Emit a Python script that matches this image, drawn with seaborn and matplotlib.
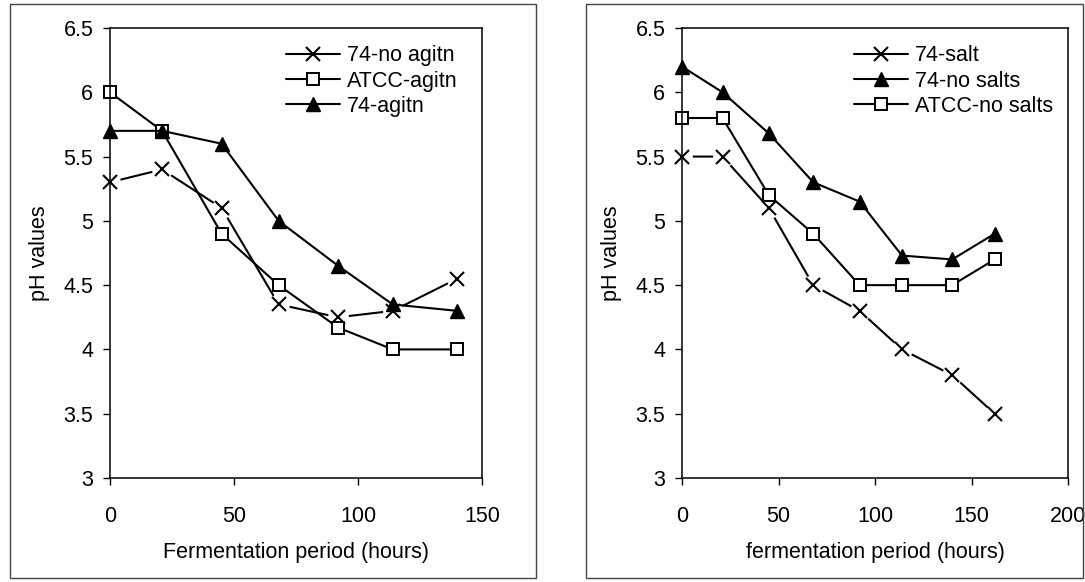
import matplotlib
matplotlib.use("Agg")
import matplotlib.pyplot as plt
from matplotlib.patches import Rectangle
from matplotlib.lines import Line2D
import seaborn as sns
import pandas as pd

# Sampling times (hours)
hours_agit = [0, 21, 45, 68, 92, 114, 140]
hours_salt = [0, 21, 45, 68, 92, 114, 140, 162]

# pH readings, agitation trial
ph_74_no_agitn = [5.3, 5.4, 5.1, 4.35, 4.25, 4.3, 4.55]
ph_atcc_agitn = [6.0, 5.7, 4.9, 4.5, 4.17, 4.0, 4.0]
ph_74_agitn = [5.7, 5.7, 5.6, 5.0, 4.65, 4.35, 4.3]

# pH readings, salts trial
ph_74_salt = [5.5, 5.5, 5.1, 4.5, 4.3, 4.0, 3.8, 3.5]
ph_74_no_salts = [6.2, 6.0, 5.68, 5.3, 5.15, 4.73, 4.7, 4.9]
ph_atcc_no_salts = [5.8, 5.8, 5.2, 4.9, 4.5, 4.5, 4.5, 4.7]

sns.set_theme(style="white")
plt.rcParams["font.family"] = ["Liberation Sans", "DejaVu Sans"]
FS = 15.5

fig = plt.figure(figsize=(10.85, 5.82), dpi=100)

# chart-area frames
fig.patches.append(Rectangle((10 / 1085, 4 / 582), 526 / 1085, 574 / 582,
                             transform=fig.transFigure, fill=False,
                             edgecolor="#444444", linewidth=1.0))
fig.patches.append(Rectangle((586 / 1085, 4 / 582), 497 / 1085, 574 / 582,
                             transform=fig.transFigure, fill=False,
                             edgecolor="#444444", linewidth=1.0))

ax1 = fig.add_axes([110 / 1085, 104 / 582, 372 / 1085, 450 / 582])
ax2 = fig.add_axes([682 / 1085, 104 / 582, 386 / 1085, 450 / 582])

marker_kw = {
    "x": dict(marker="x", markersize=10, markeredgewidth=1.5,
              markeredgecolor="black"),
    "s": dict(marker="s", markersize=9, markeredgewidth=1.4,
              markerfacecolor="white", markeredgecolor="black"),
    "^": dict(marker="^", markersize=10, markeredgewidth=1.0,
              markerfacecolor="black", markeredgecolor="black"),
}

def draw(ax, x, y, m):
    df = pd.DataFrame({"hours": x, "pH": y})
    sns.lineplot(data=df, x="hours", y="pH", ax=ax, color="black",
                 linewidth=1.5, clip_on=False)
    if m == "x":
        # white halo so the line stops short of each cross
        sns.lineplot(data=df, x="hours", y="pH", ax=ax, linestyle="",
                     marker="o", markersize=15, markerfacecolor="white",
                     markeredgewidth=0, clip_on=False)
    sns.lineplot(data=df, x="hours", y="pH", ax=ax, linestyle="",
                 color="black", clip_on=False, **marker_kw[m])

def handle(m):
    return Line2D([], [], color="black", linewidth=1.5, **marker_kw[m])

draw(ax1, hours_agit, ph_74_no_agitn, "x")
draw(ax1, hours_agit, ph_atcc_agitn, "s")
draw(ax1, hours_agit, ph_74_agitn, "^")

draw(ax2, hours_salt, ph_74_salt, "x")
draw(ax2, hours_salt, ph_74_no_salts, "^")
draw(ax2, hours_salt, ph_atcc_no_salts, "s")

legends = {
    ax1: ([handle("x"), handle("s"), handle("^")],
          ["74-no agitn", "ATCC-agitn", "74-agitn"], (0.98, 1.0)),
    ax2: ([handle("x"), handle("^"), handle("s")],
          ["74-salt", "74-no salts", "ATCC-no salts"], (1.005, 1.0)),
}

for ax, xmax, xticks, xlabel in [
    (ax1, 150, [0, 50, 100, 150], "Fermentation period (hours)"),
    (ax2, 200, [0, 50, 100, 150, 200], "fermentation period (hours)"),
]:
    ax.set_xlim(0, xmax)
    ax.set_ylim(3, 6.5)
    ax.set_xticks(xticks)
    ax.set_yticks([3, 3.5, 4, 4.5, 5, 5.5, 6, 6.5])
    ax.set_yticklabels(["3", "3.5", "4", "4.5", "5", "5.5", "6", "6.5"])
    ax.tick_params(axis="both", direction="out", length=5, width=1,
                   color="black", labelsize=FS, labelcolor="black",
                   bottom=True, left=True)
    ax.tick_params(axis="x", pad=15)
    ax.tick_params(axis="y", pad=7)
    ax.set_xlabel(xlabel, fontsize=FS, labelpad=11, color="black")
    ax.set_ylabel("pH values", fontsize=FS, labelpad=10, color="black")
    for sp in ax.spines.values():
        sp.set_visible(True)
        sp.set_color("black")
        sp.set_linewidth(1.1)
    hs, ls, anchor = legends[ax]
    leg = ax.legend(hs, ls, loc="upper right", bbox_to_anchor=anchor,
                    frameon=False, fontsize=FS, handlelength=2.5,
                    handletextpad=0.3, labelspacing=0.2, borderaxespad=0.4)
    for t in leg.get_texts():
        t.set_color("black")

fig.savefig("out.png", dpi=100)
